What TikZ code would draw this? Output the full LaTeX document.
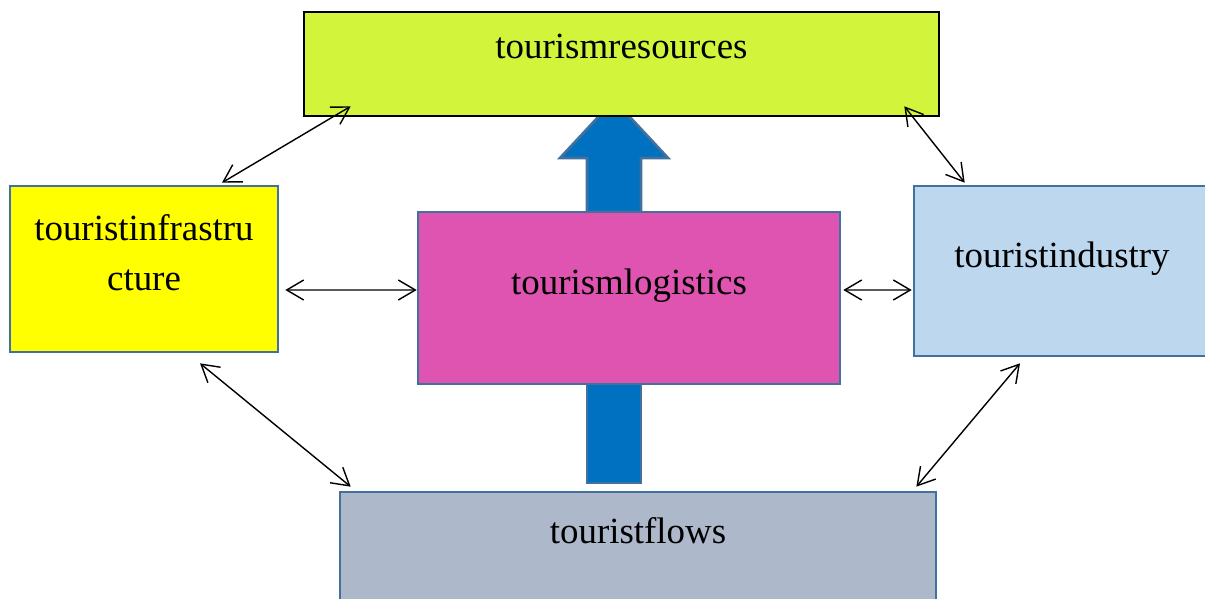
\documentclass[tikz,border=0pt]{standalone}
\usepackage{fontspec}
\setmainfont{Liberation Serif}
\usetikzlibrary{arrows.meta}
\definecolor{boxline}{HTML}{41719C}
\definecolor{resfill}{HTML}{D2F53C}
\definecolor{infrafill}{HTML}{FFFF00}
\definecolor{logfill}{HTML}{DE54B0}
\definecolor{indfill}{HTML}{BDD7EE}
\definecolor{flowfill}{HTML}{ADB9CA}
\definecolor{arrowblue}{HTML}{0070C0}
\tikzset{box/.style={draw=boxline, line width=0.75pt, inner sep=0pt},
  txt/.style={font=\fontsize{10.5}{14.5}\selectfont, inner sep=0pt, anchor=base, align=center},
  link/.style={black, line width=0.4pt, {Straight Barb[length=1.7mm,width=2mm]}-{Straight Barb[length=1.7mm,width=2mm]}}}

\begin{document}
\begin{tikzpicture}
   \useasboundingbox (0,0) rectangle (12.05,-5.98);
   \clip (0,0) rectangle (12.05,-5.98);
   \filldraw[draw=boxline, line width=0.75pt, fill=arrowblue] (5.87,-2.12) -- (5.87,-1.58) -- (5.60,-1.58) -- (6.14,-1.00)
     -- (6.68,-1.58) -- (6.41,-1.58) -- (6.41,-2.12) -- cycle;
   \filldraw[draw=boxline, line width=0.75pt, fill=arrowblue] (5.87,-3.80) rectangle (6.41,-4.83);
    \node[box, draw=black, fill=resfill, minimum width=6.35cm, minimum height=1.04cm] (res) at (6.215,-0.64) {};
    \node[box, fill=infrafill, minimum width=2.68cm, minimum height=1.66cm] (infra) at (1.44,-2.69) {};
    \node[box, fill=logfill, minimum width=4.22cm, minimum height=1.72cm] (logi) at (6.29,-2.98) {};
    \node[box, fill=indfill, minimum width=2.96cm, minimum height=1.70cm] (ind) at (10.62,-2.71) {};
    \node[box, fill=flowfill, minimum width=5.96cm, minimum height=1.28cm] (flows) at (6.38,-5.56) {};
    \node[txt] (restxt) at (6.215,-0.59) {tourismresources};
    \node[txt] (infratxt) at (1.44,-2.91) {touristinfrastru\\cture};
    \node[txt] (logitxt) at (6.29,-2.94) {tourismlogistics};
    \node[txt] (indtxt) at (10.62,-2.68) {touristindustry};
    \node[txt] (flowstxt) at (6.38,-5.43) {touristflows};
    \draw[link] ([xshift=0.48cm,yshift=0.11cm]res.south west) -- ([xshift=0.78cm,yshift=0.02cm]infra.north);
    \draw[link] ([xshift=-0.36cm,yshift=0.11cm]res.south east) -- ([xshift=0.52cm,yshift=0.02cm]ind.north west);
    \draw[link] ([xshift=0.06cm,yshift=-0.21cm]infra.east) -- ([yshift=0.08cm]logi.west);
    \draw[link] ([xshift=0.02cm,yshift=0.08cm]logi.east) -- ([xshift=-0.01cm,yshift=-0.19cm]ind.west);
    \draw[link] ([xshift=0.56cm,yshift=-0.10cm]infra.south) -- ([xshift=0.12cm,yshift=0.04cm]flows.north west);
    \draw[link] ([xshift=-0.42cm,yshift=-0.06cm]ind.south) -- ([xshift=-0.21cm,yshift=0.04cm]flows.north east);
  \end{tikzpicture}
\end{document}
